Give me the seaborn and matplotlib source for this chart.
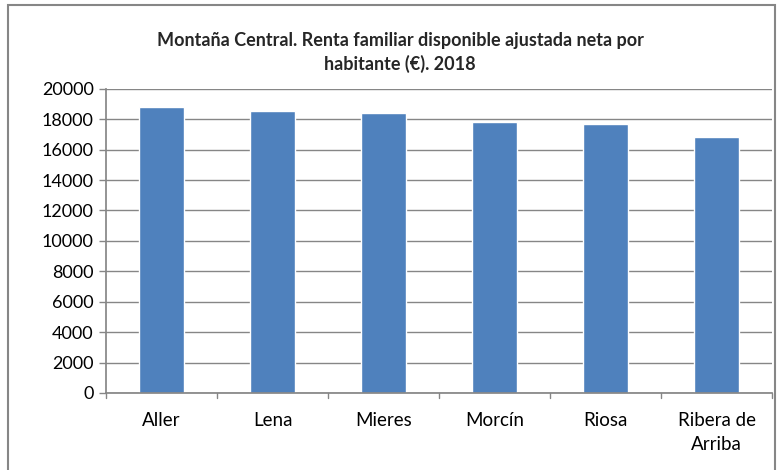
import matplotlib
matplotlib.use("Agg")
import matplotlib.pyplot as plt
import matplotlib.patches as mpatches
import pandas as pd
import seaborn as sns

# datos
municipios = ["Aller", "Lena", "Mieres", "Morcín", "Riosa", "Ribera de\nArriba"]
renta = [18800, 18530, 18400, 17830, 17700, 16820]
ticks_y = list(range(0, 20001, 2000))

df = pd.DataFrame({"municipio": municipios, "renta": renta})

sns.set_theme(style="white")
plt.rcParams["font.family"] = ["Lato", "DejaVu Sans"]

fig = plt.figure(figsize=(7.8, 4.7), dpi=100)
ax = fig.add_axes([0.136, 0.164, 0.854, 0.647])

sns.barplot(data=df, x="municipio", y="renta", color="#4F81BD",
            saturation=1, width=0.41, ax=ax)

ax.set_ylim(0, 20000)
ax.set_xlim(-0.5, len(municipios) - 0.5)
ax.set_yticks(ticks_y)
ax.set_yticklabels([str(t) for t in ticks_y], fontsize=13, color="black")
for lbl in ax.get_xticklabels():
    lbl.set_linespacing(1.45)
ax.tick_params(axis="x", labelsize=13.5, colors="black", length=0, pad=14)
ax.tick_params(axis="y", length=5, width=1, color="#868686", left=True, pad=4)
ax.set_xlabel("")
ax.set_ylabel("")

# rejilla
ax.yaxis.grid(True, color="#868686", linewidth=1)
ax.set_axisbelow(True)
for s in ["top", "right"]:
    ax.spines[s].set_visible(False)
ax.spines["left"].set_color("#868686")
ax.spines["bottom"].set_color("#868686")

# marcas entre categorias
for i in range(len(municipios) + 1):
    ax.plot([i - 0.5, i - 0.5], [0, -5 / 304 * 20000], color="#868686",
            linewidth=1, clip_on=False)

fig.text(0.513, 0.888, "Montaña Central. Renta familiar disponible ajustada neta por\nhabitante (€). 2018",
         ha="center", va="center", fontsize=13, fontweight="bold", linespacing=1.4)

# marco exterior
fig.patches.append(mpatches.Rectangle((0.010, -0.05), 0.984, 1.04,
                                      transform=fig.transFigure, fill=False,
                                      edgecolor="#868686", linewidth=1.5))

fig.savefig("out.png", dpi=100)
